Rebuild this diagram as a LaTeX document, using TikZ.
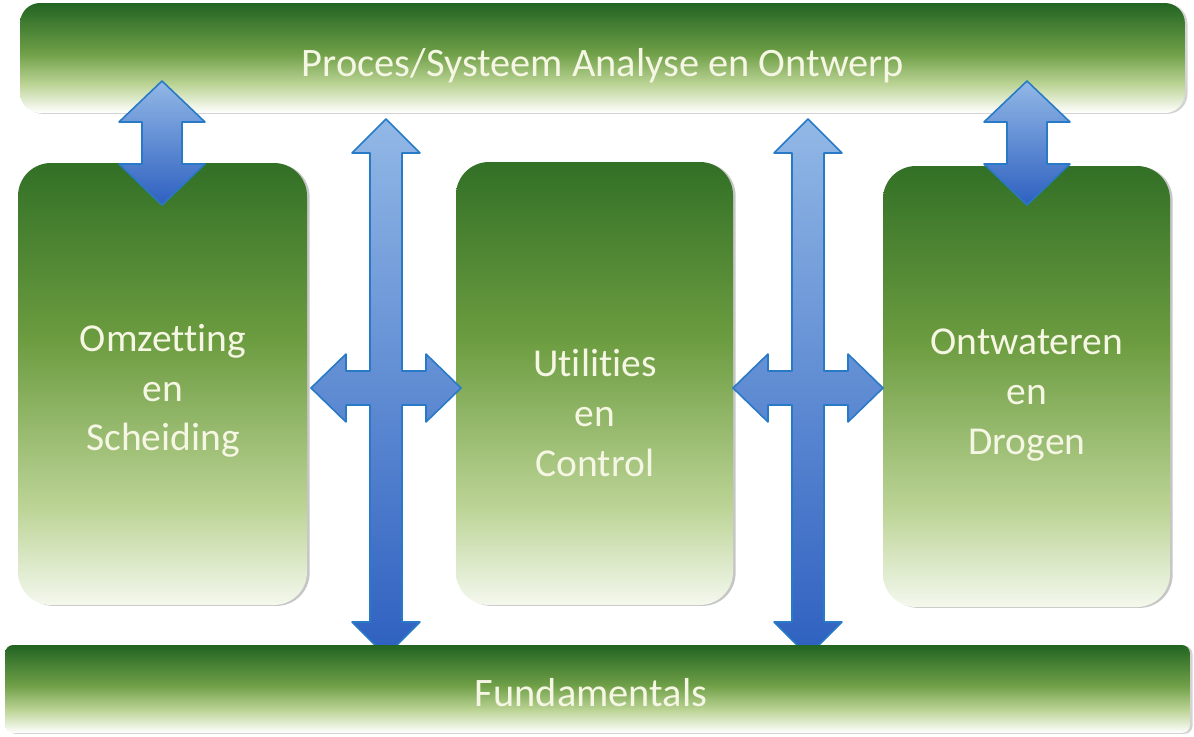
\documentclass[tikz,border=0pt]{standalone}
\usepackage{fontspec}
\setmainfont{Carlito}[Ligatures=NoCommon]
\usetikzlibrary{shadows}

\definecolor{grndark}{RGB}{50,112,38}
\definecolor{grnmid}{RGB}{108,156,64}
\definecolor{grnlight}{RGB}{188,212,150}
\definecolor{grnpale}{RGB}{244,248,238}
\definecolor{bardark}{RGB}{34,100,34}
\definecolor{barmid}{RGB}{112,160,72}
\definecolor{bluetop}{RGB}{146,184,230}
\definecolor{bluebot}{RGB}{46,96,192}
\definecolor{blueline}{RGB}{40,122,198}
\definecolor{txtcol}{RGB}{246,246,228}

\pgfdeclareverticalshading{boxfade}{100bp}{color(0bp)=(grnpale); color(25bp)=(grnpale);
  color(36bp)=(grnlight); color(55bp)=(grnmid); color(75bp)=(grndark); color(100bp)=(grndark)}
\pgfdeclareverticalshading{barfade}{100bp}{color(0bp)=(white); color(25bp)=(white);
  color(38bp)=(grnlight); color(52bp)=(barmid); color(75bp)=(bardark); color(100bp)=(bardark)}

\begin{document}
\begin{tikzpicture}[x={(0.02cm,0cm)}, y={(0cm,-0.02cm)}, line join=round,
    greenbox/.style={rounded corners=0.66cm, shading=boxfade,
      drop shadow={opacity=0.45, shadow xshift=1.5pt, shadow yshift=-0.5pt}},
    greenbar/.style={shading=barfade,
      drop shadow={opacity=0.35, shadow xshift=1.5pt, shadow yshift=-0.5pt}},
    blockarrow/.style={draw=blueline, line width=0.9pt, top color=bluetop, bottom color=bluebot},
    boxtext/.style={text=txtcol, align=center, font=\fontsize{22.5}{28.3}\selectfont},
    bartext/.style={text=txtcol, font=\fontsize{23}{28}\selectfont}]
  \useasboundingbox (0,0) rectangle (1194,737);

  % Top bar
  \node[greenbar, rounded corners=0.4cm, minimum width=23.3cm, minimum height=2.2cm] (analyse) at (602.5,58) {};
  \node[bartext] (analysetxt) at (603,66) {Proces/Systeem Analyse en Ontwerp};

  % Three boxes
  \foreach \nm/\cx/\cy/\bw/\bh in {omzet/162.5/384/289/442,
      util/594.5/383.5/277/443,
      ontw/1026.5/386.5/287/441}
    \node[greenbox, minimum width=\bw*0.02cm, minimum height=\bh*0.02cm] (\nm) at (\cx,\cy) {};

  \node[boxtext] (omzettxt) at (163,391) {Omzetting\\en\\Scheiding};
  \node[boxtext] (utiltxt) at (595,413) {Utilities\\en\\Control};
  \node[boxtext] (ontwtxt) at (1027,395) {Ontwateren\\en\\Drogen};

  % Short up/down arrows between top bar and outer boxes
  \foreach \cx in {162,1027}
    \draw[blockarrow] (\cx,81) -- (\cx+43,122) -- (\cx+20,122) -- (\cx+20,164) -- (\cx+43,164)
      -- (\cx,205) -- (\cx-43,164) -- (\cx-20,164) -- (\cx-20,122) -- (\cx-43,122) -- cycle;

  % Long cross arrows
  \foreach \cx in {386,808}{
    \def\cy{388}
    \draw[blockarrow] (\cx,119) -- (\cx+34,153) -- (\cx+16,153) -- (\cx+16,\cy-17) -- (\cx+40,\cy-17)
      -- (\cx+40,\cy-34) -- (\cx+75,\cy) -- (\cx+40,\cy+34) -- (\cx+40,\cy+17) -- (\cx+16,\cy+17)
      -- (\cx+16,622) -- (\cx+34,622) -- (\cx,656) -- (\cx-34,622) -- (\cx-16,622) -- (\cx-16,\cy+17)
      -- (\cx-40,\cy+17) -- (\cx-40,\cy+34) -- (\cx-75,\cy) -- (\cx-40,\cy-34) -- (\cx-40,\cy-17)
      -- (\cx-16,\cy-17) -- (\cx-16,153) -- (\cx-34,153) -- cycle;
  }

  % Bottom bar
  \node[greenbar, rounded corners=0.16cm, minimum width=23.7cm, minimum height=1.76cm] (fund) at (597.5,689) {};
  \node[bartext] (fundtxt) at (591,693) {Fundamentals};
\end{tikzpicture}
\end{document}
